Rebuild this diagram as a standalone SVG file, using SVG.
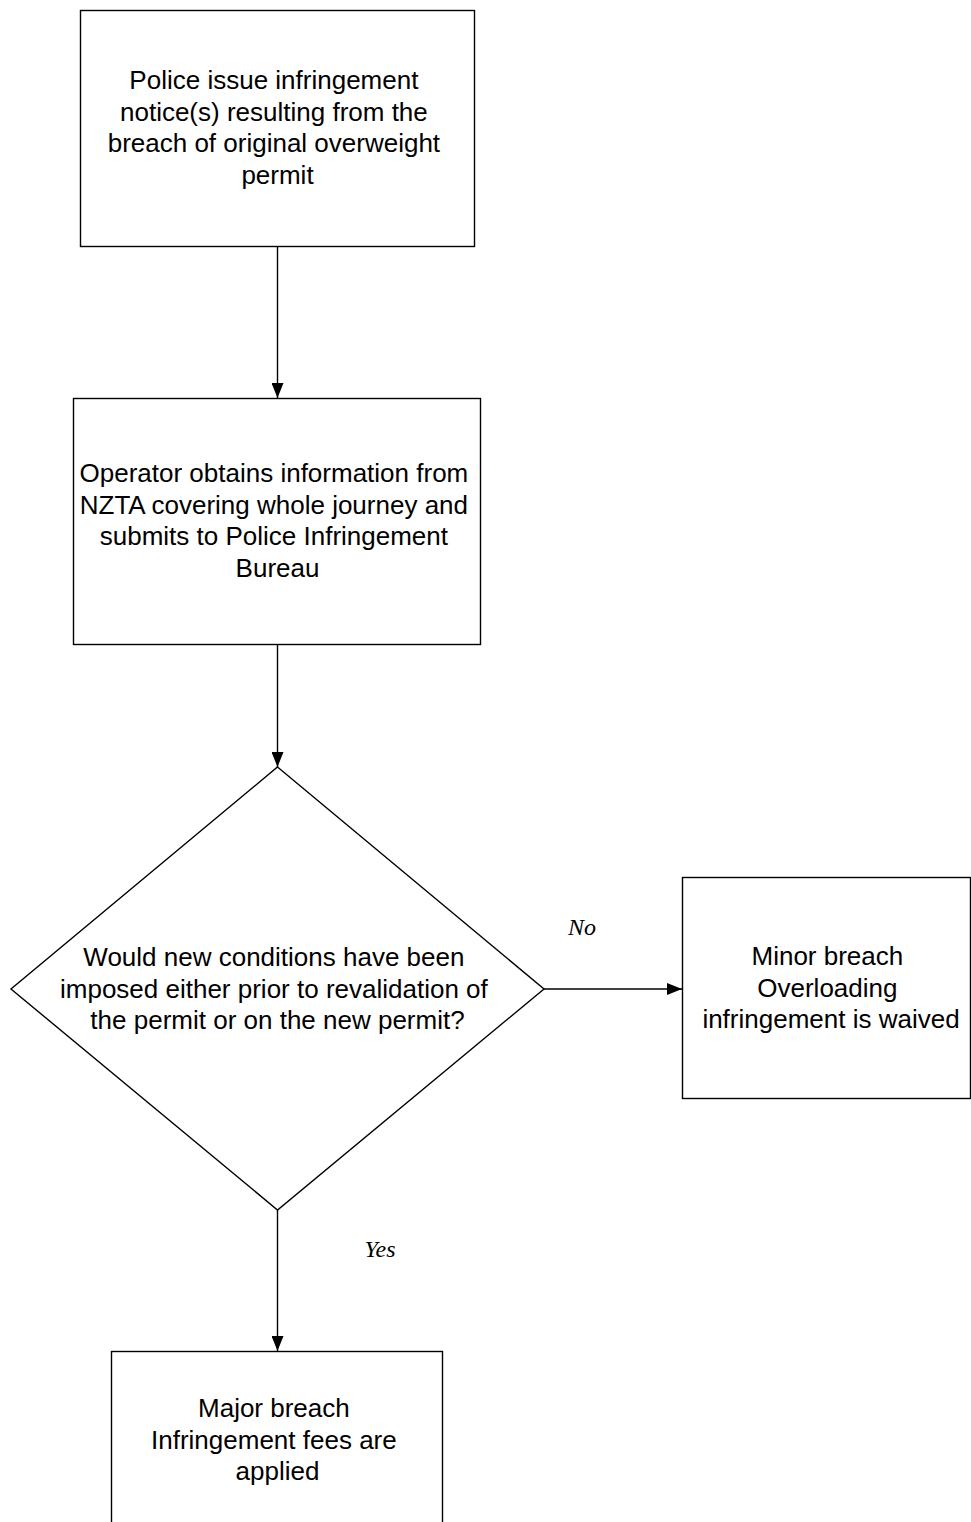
<svg xmlns="http://www.w3.org/2000/svg" width="971" height="1522" viewBox="0 0 971 1522">
  <style>
    .shape { fill: #ffffff; stroke: #000000; stroke-width: 1.4; }
    .edge { fill: none; stroke: #000000; stroke-width: 1.4; }
    .label { font-family: "Liberation Sans", Arial, sans-serif; font-size: 26px; fill: #000000; text-anchor: middle; }
    .branch { font-family: "Liberation Serif", "Times New Roman", serif; font-style: italic; font-size: 24px; fill: #000000; text-anchor: middle; }
  </style>
  <defs>
    <marker id="arrow" markerWidth="15" markerHeight="12" refX="15" refY="6" orient="auto" markerUnits="userSpaceOnUse">
      <path d="M0,0 L15,6 L0,12 Z" fill="#000000"/>
    </marker>
  </defs>
  <rect width="971" height="1522" fill="#ffffff"/>

  <g id="connectors">
    <line class="edge" x1="277.5" y1="247" x2="277.5" y2="398" marker-end="url(#arrow)"/>
    <line class="edge" x1="277.5" y1="645" x2="277.5" y2="767" marker-end="url(#arrow)"/>
    <line class="edge" x1="544" y1="989" x2="682" y2="989" marker-end="url(#arrow)"/>
    <line class="edge" x1="277.5" y1="1210" x2="277.5" y2="1351" marker-end="url(#arrow)"/>
    <text class="branch" x="582" y="935">No</text>
    <text class="branch" x="380" y="1257">Yes</text>
  </g>

  <g id="police-notice">
    <rect class="shape" x="80.5" y="10.5" width="394" height="236"/>
    <text class="label">
      <tspan x="277.5" y="89">Police issue infringement</tspan>
      <tspan x="277.5" y="120.7">notice(s) resulting from the</tspan>
      <tspan x="277.5" y="152.4">breach of original overweight</tspan>
      <tspan x="277.5" y="184.1">permit</tspan>
    </text>
  </g>

  <g id="operator-info">
    <rect class="shape" x="73.5" y="398.5" width="407" height="246"/>
    <text class="label">
      <tspan x="277.5" y="482">Operator obtains information from</tspan>
      <tspan x="277.5" y="513.7">NZTA covering whole journey and</tspan>
      <tspan x="277.5" y="545.4">submits to Police Infringement</tspan>
      <tspan x="277.5" y="577.1">Bureau</tspan>
    </text>
  </g>

  <g id="decision">
    <polygon class="shape" points="277.5,767 544,989 277.5,1210 11,989"/>
    <text class="label">
      <tspan x="277.5" y="966">Would new conditions have been</tspan>
      <tspan x="277.5" y="997.7">imposed either prior to revalidation of</tspan>
      <tspan x="277.5" y="1029.4">the permit or on the new permit?</tspan>
    </text>
  </g>

  <g id="minor-breach">
    <rect class="shape" x="682.5" y="877.5" width="288" height="221"/>
    <text class="label">
      <tspan x="831" y="965">Minor breach</tspan>
      <tspan x="831" y="996.7">Overloading</tspan>
      <tspan x="831" y="1028.4">infringement is waived</tspan>
    </text>
  </g>

  <g id="major-breach">
    <rect class="shape" x="111.5" y="1351.5" width="331" height="220"/>
    <text class="label">
      <tspan x="277.5" y="1417">Major breach</tspan>
      <tspan x="277.5" y="1448.7">Infringement fees are</tspan>
      <tspan x="277.5" y="1480.4">applied</tspan>
    </text>
  </g>
</svg>
